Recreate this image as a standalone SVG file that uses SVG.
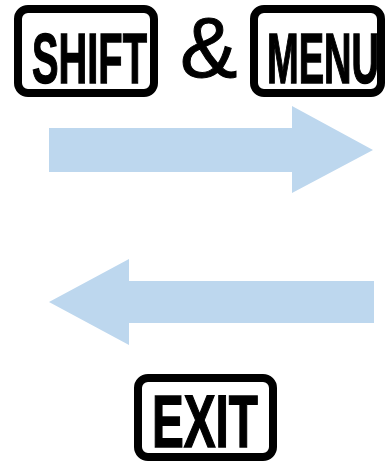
<svg xmlns="http://www.w3.org/2000/svg" width="386" height="462" viewBox="0 0 386 462">
<style>
.key{fill:#fff;stroke:#000;stroke-width:8}
.kt{font-family:"Liberation Sans",Arial,sans-serif;font-weight:bold;fill:#000;stroke:#000;stroke-width:1.5}
.arr{fill:#BDD7EE}
</style>
<rect width="386" height="462" fill="#fff"/>
<g id="shift">
<rect class="key" x="18" y="9" width="136" height="84" rx="10"/>
<text class="kt" x="32" y="83" font-size="71" textLength="115" lengthAdjust="spacingAndGlyphs">SHIFT</text>
</g>
<g id="amp">
<text x="180" y="77" font-family="Liberation Sans,Arial,sans-serif" font-size="86" fill="#000" stroke="#000" stroke-width="1">&amp;</text>
</g>
<g id="menu">
<rect class="key" x="254" y="9" width="127" height="84" rx="10"/>
<text class="kt" x="267" y="83" font-size="71" textLength="112" lengthAdjust="spacingAndGlyphs">MENU</text>
</g>
<g id="exit">
<rect class="key" x="138" y="378" width="135" height="79" rx="10"/>
<text class="kt" x="152" y="447" font-size="75" textLength="106" lengthAdjust="spacingAndGlyphs">EXIT</text>
</g>
<g id="connectors">
<polygon class="arr" points="49,128 292,128 292,106 373,150 292,193 292,172 49,172"/>
<polygon class="arr" points="374,281 129,281 129,259 49,302 129,345 129,323 374,323"/>
</g>
</svg>
